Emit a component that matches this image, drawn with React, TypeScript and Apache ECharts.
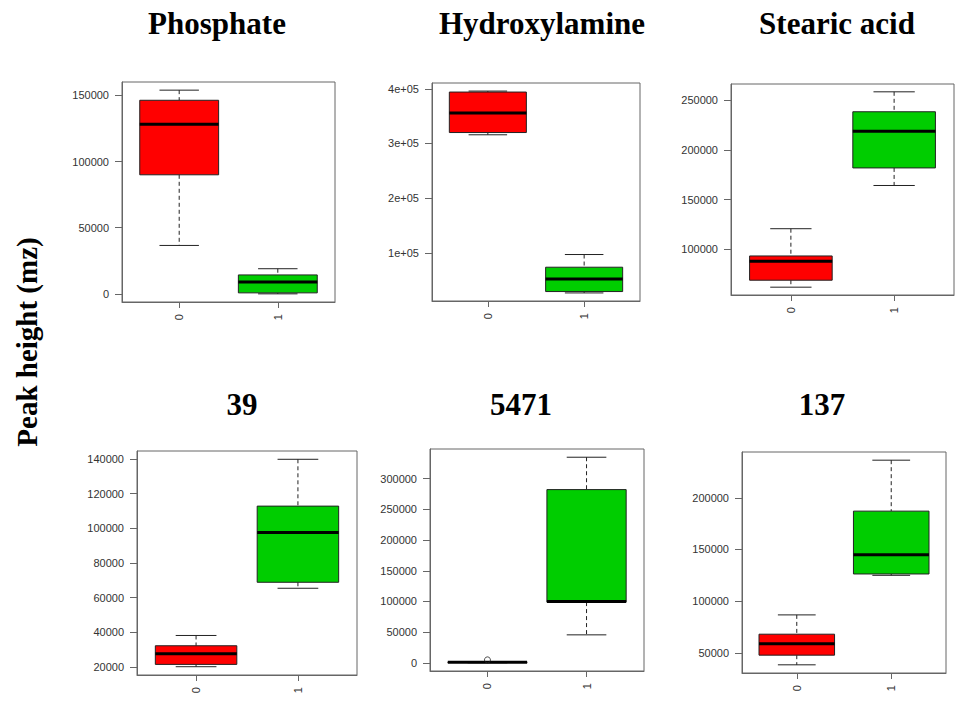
import React, { useEffect, useRef } from "react";
import * as echarts from "echarts";

// group categories (x axis)
const groups = ["0", "1"];
const panelTitles = ["Phosphate", "Hydroxylamine", "Stearic acid", "39", "5471", "137"];
const yAxisTitle = "Peak height (mz)";
const boxColors = ["#FF0000", "#00CD00"];

// box statistics per group: [min, Q1, median, Q3, max]
const phosphate = [
  [36600, 90000, 128300, 146350, 154000],
  [0, 750, 9000, 14300, 19000],
];
const hydroxylamine = [
  [315900, 320000, 355500, 394000, 395800],
  [26800, 29300, 52400, 73800, 97000],
];
const stearicAcid = [
  [61830, 68860, 87950, 93300, 120760],
  [164300, 182000, 218850, 238600, 258700],
];
const mz39 = [
  [20190, 21530, 27670, 32270, 38200],
  [65430, 68880, 97640, 112800, 139800],
];
const mz5471 = [
  [200, 700, 1100, 1500, 2200],
  [45650, 99000, 100000, 282100, 334800],
];
const mz137 = [
  [38410, 47750, 58690, 68030, 86700],
  [125000, 126300, 144960, 187100, 236400],
];
// outliers: [group index, value]
const outliers5471 = [[0, 4900]];

// y tick labels per panel
const ticksPhosphate = [0, 50000, 100000, 150000];
const ticksHydroxylamine = [100000, 200000, 300000, 400000];
const ticksStearic = [100000, 150000, 200000, 250000];
const ticks39 = [20000, 40000, 60000, 80000, 100000, 120000, 140000];
const ticks5471 = [0, 50000, 100000, 150000, 200000, 250000, 300000];
const ticks137 = [50000, 100000, 150000, 200000];

const panelStats = [phosphate, hydroxylamine, stearicAcid, mz39, mz5471, mz137];
const panelTicks = [ticksPhosphate, ticksHydroxylamine, ticksStearic, ticks39, ticks5471, ticks137];
const panelOutliers = [[], [], [], [], outliers5471, []];

// layout (pixels)
const grids = [
  { left: 122, top: 82, width: 213, height: 220 },
  { left: 432, top: 83, width: 208, height: 218 },
  { left: 731, top: 84, width: 223, height: 211 },
  { left: 137, top: 451, width: 220, height: 224 },
  { left: 430, top: 449, width: 214, height: 222 },
  { left: 742, top: 452, width: 204, height: 221 },
];
const titlePos = [
  [217, 23], [542, 23], [837, 23],
  [242, 404], [521, 404], [822, 404],
];

const sciFormat = (v: number) => {
  if (v === 0) return "0";
  const e = Math.floor(Math.log10(Math.abs(v)));
  const m = v / Math.pow(10, e);
  const es = (e < 10 ? "0" : "") + e;
  return `${Math.round(m * 100) / 100}e+${es}`;
};

export default function App() {
  const ref = useRef<HTMLDivElement>(null);
  useEffect(() => {
    if (!ref.current) return;
    const chart = echarts.init(ref.current, null, { renderer: "svg" });
    const frame = "#666";
    const xAxis: any[] = [];
    const yAxis: any[] = [];
    const series: any[] = [];
    panelStats.forEach((stats, p) => {
      const vals = stats.flat().concat(panelOutliers[p].map((o) => o[1]));
      const lo = Math.min(...vals);
      const hi = Math.max(...vals);
      const ext = (hi - lo) * 0.04;
      xAxis.push({
        gridIndex: p,
        type: "value",
        min: 0.42,
        max: 2.58,
        splitLine: { show: false },
        axisLine: { show: true, onZero: false, lineStyle: { color: frame } },
        axisTick: { show: true, customValues: [1, 2], length: 6, lineStyle: { color: frame } },
        axisLabel: {
          customValues: [1, 2],
          formatter: (v: number) => groups[Math.round(v) - 1],
          rotate: 90,
          margin: 12,
          fontSize: 11,
          color: "#333",
          fontFamily: "Liberation Sans",
        },
      });
      yAxis.push({
        gridIndex: p,
        type: "value",
        min: lo - ext,
        max: hi + ext,
        splitLine: { show: false },
        axisLine: { show: true, onZero: false, lineStyle: { color: frame } },
        axisTick: { show: true, customValues: panelTicks[p], length: 7, lineStyle: { color: frame } },
        axisLabel: {
          customValues: panelTicks[p],
          formatter: p === 1 ? sciFormat : (v: number) => String(v),
          margin: 13,
          fontSize: 11,
          color: "#333",
          fontFamily: "Liberation Sans",
        },
      });
      series.push({
        type: "custom",
        xAxisIndex: p,
        yAxisIndex: p,
        data: stats.map((s, i) => [i + 1, ...s]),
        encode: { x: 0, y: [1, 2, 3, 4, 5] },
        renderItem: (params: any, api: any) => {
          const x = api.value(0);
          const mn = api.value(1), q1 = api.value(2), md = api.value(3), q3 = api.value(4), mx = api.value(5);
          const c = (xx: number, yy: number) => api.coord([xx, yy]);
          const [xl, yq1] = c(x - 0.4, q1);
          const [xr, yq3] = c(x + 0.4, q3);
          const [xc, ymd] = c(x, md);
          const [, ymn] = c(x, mn);
          const [, ymx] = c(x, mx);
          const [cl] = c(x - 0.2, mn);
          const [cr] = c(x + 0.2, mn);
          const ln = "#222";
          return {
            type: "group",
            children: [
              { type: "line", shape: { x1: xc, y1: ymx, x2: xc, y2: yq3 }, style: { stroke: ln, lineWidth: 1, lineDash: [4, 3] } },
              { type: "line", shape: { x1: xc, y1: yq1, x2: xc, y2: ymn }, style: { stroke: ln, lineWidth: 1, lineDash: [4, 3] } },
              { type: "line", shape: { x1: cl, y1: ymx, x2: cr, y2: ymx }, style: { stroke: ln, lineWidth: 1 } },
              { type: "line", shape: { x1: cl, y1: ymn, x2: cr, y2: ymn }, style: { stroke: ln, lineWidth: 1 } },
              {
                type: "rect",
                shape: { x: xl, y: yq3, width: xr - xl, height: yq1 - yq3 },
                style: { fill: boxColors[params.dataIndex], stroke: ln, lineWidth: 1 },
              },
              { type: "line", shape: { x1: xl, y1: ymd, x2: xr, y2: ymd }, style: { stroke: "#000", lineWidth: 3 } },
            ],
          };
        },
      });
      if (panelOutliers[p].length) {
        series.push({
          type: "scatter",
          xAxisIndex: p,
          yAxisIndex: p,
          symbol: "circle",
          symbolSize: 6,
          itemStyle: { color: "rgba(255,255,255,0)", borderColor: "#222", borderWidth: 1 },
          data: panelOutliers[p].map((o) => [o[0] + 1, o[1]]),
          z: 5,
        });
      }
    });

    const graphic: any[] = panelTitles.map((t, i) => ({
      type: "text",
      x: titlePos[i][0],
      y: titlePos[i][1],
      style: {
        text: t,
        fontFamily: "Liberation Serif",
        fontWeight: "bold",
        fontSize: 31,
        fill: "#000",
        textAlign: "center",
        textVerticalAlign: "middle",
      },
    }));
    graphic.push({
      type: "text",
      x: 27,
      y: 342,
      rotation: Math.PI / 2,
      style: {
        text: yAxisTitle,
        fontFamily: "Liberation Serif",
        fontWeight: "bold",
        fontSize: 29,
        fill: "#000",
        textAlign: "center",
        textVerticalAlign: "middle",
      },
    });

    chart.setOption({
      animation: false,
      backgroundColor: "#fff",
      grid: grids.map((g) => ({ ...g, show: true, borderColor: frame, borderWidth: 1, backgroundColor: "transparent" })),
      xAxis,
      yAxis,
      series,
      graphic,
    });
    return () => chart.dispose();
  }, []);
  return <div ref={ref} style={{ position: "absolute", left: 0, top: 0, width: 956, height: 708 }} />;
}
